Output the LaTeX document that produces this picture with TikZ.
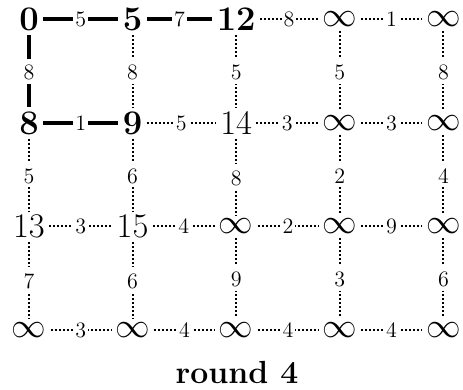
\documentclass[tikz,border=0pt]{standalone}
\begin{document}
\begin{tikzpicture}[x=0.5pt,y=-0.5pt,
  vtx/.style={font=\fontsize{18}{21}\selectfont, inner sep=2pt},
  wt/.style={font=\fontsize{11}{13}\selectfont, fill=white, inner xsep=1pt, inner ysep=2pt},
  vwt/.style={wt, text height=8.6pt, text depth=0pt},
  tree/.style={line width=2pt},
  other/.style={line width=1pt, dash pattern=on 1pt off 1pt}]
\useasboundingbox (0,0) rectangle (463,390);
% row 0
\node[vtx] (n00) at (29,19.5) {$\mathbf{0}$};
\node[vtx] (n01) at (132.6,19.5) {$\mathbf{5}$};
\node[vtx] (n02) at (236.2,19.5) {$\mathbf{12}$};
\node[vtx] (n03) at (339.8,19.5) {$\infty$};
\node[vtx] (n04) at (443.4,19.5) {$\infty$};
% row 1
\node[vtx] (n10) at (29,123) {$\mathbf{8}$};
\node[vtx] (n11) at (132.6,123) {$\mathbf{9}$};
\node[vtx] (n12) at (236.2,123) {$14$};
\node[vtx] (n13) at (339.8,123) {$\infty$};
\node[vtx] (n14) at (443.4,123) {$\infty$};
% row 2
\node[vtx] (n20) at (29,226.5) {$13$};
\node[vtx] (n21) at (132.6,226.5) {$15$};
\node[vtx] (n22) at (236.2,226.5) {$\infty$};
\node[vtx] (n23) at (339.8,226.5) {$\infty$};
\node[vtx] (n24) at (443.4,226.5) {$\infty$};
% row 3
\node[vtx] (n30) at (29,330) {$\infty$};
\node[vtx] (n31) at (132.6,330) {$\infty$};
\node[vtx] (n32) at (236.2,330) {$\infty$};
\node[vtx] (n33) at (339.8,330) {$\infty$};
\node[vtx] (n34) at (443.4,330) {$\infty$};
% horizontal edges
\draw[tree]  (n00) -- node[wt]{5} (n01);
\draw[tree]  (n01) -- node[wt]{7} (n02);
\draw[other] (n02) -- node[wt]{8} (n03);
\draw[other] (n03) -- node[wt]{1} (n04);
\draw[tree]  (n10) -- node[wt]{1} (n11);
\draw[other] (n11) -- node[wt]{5} (n12);
\draw[other] (n12) -- node[wt]{3} (n13);
\draw[other] (n13) -- node[wt]{3} (n14);
\draw[other] (n20) -- node[wt]{3} (n21);
\draw[other] (n21) -- node[wt]{4} (n22);
\draw[other] (n22) -- node[wt]{2} (n23);
\draw[other] (n23) -- node[wt]{9} (n24);
\draw[other] (n30) -- node[wt]{3} (n31);
\draw[other] (n31) -- node[wt]{4} (n32);
\draw[other] (n32) -- node[wt]{4} (n33);
\draw[other] (n33) -- node[wt]{4} (n34);
% vertical edges
\draw[tree]  (n00) -- node[vwt]{8} (n10);
\draw[other] (n01) -- node[vwt]{8} (n11);
\draw[other] (n02) -- node[vwt]{5} (n12);
\draw[other] (n03) -- node[vwt]{5} (n13);
\draw[other] (n04) -- node[vwt]{8} (n14);
\draw[other] (n10) -- node[vwt]{5} (n20);
\draw[other] (n11) -- node[vwt]{6} (n21);
\draw[other] (n12) -- node[vwt]{8} (n22);
\draw[other] (n13) -- node[vwt]{2} (n23);
\draw[other] (n14) -- node[vwt]{4} (n24);
\draw[other] (n20) -- node[vwt]{7} (n30);
\draw[other] (n21) -- node[vwt]{6} (n31);
\draw[other] (n22) -- node[vwt]{9} (n32);
\draw[other] (n23) -- node[vwt]{3} (n33);
\draw[other] (n24) -- node[vwt]{6} (n34);
% caption
\node[font=\fontsize{16}{19}\selectfont\bfseries] (cap) at (237,372) {round 4};
\end{tikzpicture}
\end{document}
